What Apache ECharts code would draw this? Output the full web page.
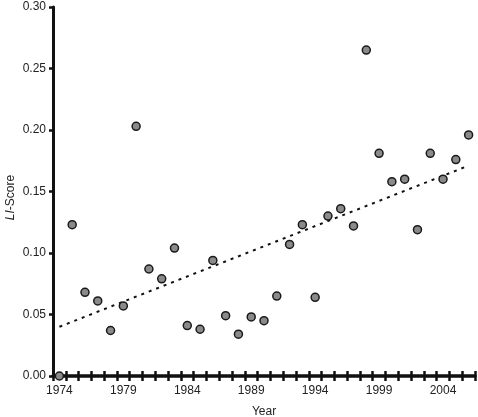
<!DOCTYPE html>
<html>
<head>
<meta charset="utf-8">
<script src="https://cdn.jsdelivr.net/npm/echarts@6/dist/echarts.min.js"></script>
<style>
  html, body { margin: 0; padding: 0; background: #fff; }
  #chart { width: 478px; height: 417px; }
</style>
</head>
<body>
<div id="chart"></div>
<script>
// years on the x axis
const years = [];
for (let y = 1974; y <= 2006; y++) years.push(String(y));

// LI-Score per year
const scores = [
  0.000, 0.123, 0.068, 0.061, 0.037, 0.057, 0.203, 0.087, 0.079, 0.104,
  0.041, 0.038, 0.094, 0.049, 0.034, 0.048, 0.045, 0.065, 0.107, 0.123,
  0.064, 0.130, 0.136, 0.122, 0.265, 0.181, 0.158, 0.160, 0.119, 0.181,
  0.160, 0.176, 0.196
];

// dotted trend line end points (first year, last year)
const trendYears = ['1974', '2006'];
const trendValues = [0.040, 0.171];

const yTicks = [0, 0.05, 0.10, 0.15, 0.20, 0.25, 0.30];

const chart = echarts.init(document.getElementById('chart'));

const font = 'Liberation Sans, Arial, sans-serif';

chart.setOption({
  animation: false,
  grid: {
    left: 53,
    right: 3,
    top: 7,
    bottom: 41,
    containLabel: false,
    outerBoundsMode: 'none',
  },
  xAxis: [
    {
      type: 'category',
      data: years,
      boundaryGap: true,
      name: 'Year',
      nameLocation: 'middle',
      nameGap: 30,
      nameMoveOverlap: false,
      nameTextStyle: { fontFamily: font, fontSize: 12, color: '#222' },
      axisLine: { lineStyle: { color: '#111', width: 3.5 } },
      axisTick: { show: true, interval: 0, length: 5, lineStyle: { color: '#111', width: 2.5 } },
      axisLabel: { interval: 4, margin: 9, fontFamily: font, fontSize: 12, color: '#222' },
      splitLine: { show: false },
    },
    {
      // second axis only for the inner half of the cross ticks
      type: 'category',
      data: years,
      position: 'bottom',
      boundaryGap: true,
      axisLine: { show: false },
      axisTick: { show: true, inside: true, interval: 0, length: 5, lineStyle: { color: '#111', width: 2.5 } },
      axisLabel: { show: false },
      splitLine: { show: false },
    },
  ],
  yAxis: {
    type: 'value',
    min: yTicks[0],
    max: yTicks[yTicks.length - 1],
    interval: 0.05,
    name: '{i|LI}-Score',
    nameLocation: 'middle',
    nameGap: 36,
    nameMoveOverlap: false,
    nameTextStyle: {
      fontFamily: font, fontSize: 12, color: '#222',
      padding: [0, 12, 0, 0],
      rich: { i: { fontStyle: 'italic', fontFamily: font, fontSize: 12, color: '#222' } },
    },
    axisLine: { show: true, lineStyle: { color: '#111', width: 3 } },
    axisTick: { show: true, length: 4, lineStyle: { color: '#111', width: 2.5 } },
    axisLabel: {
      margin: 7,
      fontFamily: font, fontSize: 12, color: '#222',
      formatter: (v) => v.toFixed(2),
    },
    splitLine: { show: false },
  },
  series: [
    {
      type: 'line',
      data: trendYears.map((y, i) => [y, trendValues[i]]),
      symbol: 'none',
      lineStyle: { color: '#111', width: 2, type: [3, 5] },
      z: 2,
    },
    {
      type: 'scatter',
      data: scores,
      symbol: 'circle',
      symbolSize: 8,
      itemStyle: { color: '#8a8a8a', borderColor: '#1a1a1a', borderWidth: 1.5, opacity: 1 },
      z: 3,
    },
  ],
});
</script>
</body>
</html>
